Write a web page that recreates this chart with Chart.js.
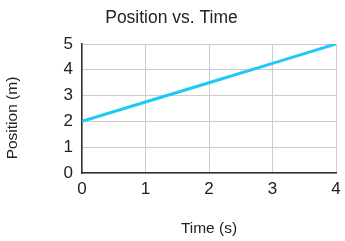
<!DOCTYPE html>
<html>
<head>
<meta charset="utf-8">
<script src="https://cdn.jsdelivr.net/npm/chart.js@4/dist/chart.umd.min.js"></script>
<style>
  html, body { margin: 0; padding: 0; background: #fff; }
  #wrap { width: 345px; height: 241px; }
</style>
</head>
<body>
<div id="wrap"><canvas id="chart"></canvas></div>
<script>
const times = [0, 1, 2, 3, 4];
const positions = [2, 2.75, 3.5, 4.25, 5];
const xTicks = [0, 1, 2, 3, 4];
const yTicks = [0, 1, 2, 3, 4, 5];
const chartTitle = 'Position vs. Time';
const xTitle = 'Time (s)';
const yTitle = 'Position (m)';

const font = "'Liberation Sans', Arial, sans-serif";
const ink = '#222222';

// y-axis title sits a bit below the plot's middle in the original, so draw it by hand
const yTitlePlugin = {
    id: 'yTitle',
    afterDraw(chart) {
        const { ctx } = chart;
        ctx.save();
        ctx.translate(13, 118);
        ctx.rotate(-Math.PI / 2);
        ctx.fillStyle = ink;
        ctx.font = `15.5px ${font}`;
        ctx.textAlign = 'center';
        ctx.textBaseline = 'middle';
        ctx.fillText(yTitle, 0, 0);
        ctx.restore();
    },
};

new Chart(document.getElementById('chart'), {
    type: 'line',
    data: {
        datasets: [{
            data: times.map((t, i) => ({ x: t, y: positions[i] })),
            borderColor: '#1ec8f7',
            borderWidth: 3,
            pointRadius: 0,
            tension: 0,
            fill: false,
        }],
    },
    plugins: [yTitlePlugin],
    options: {
        responsive: true,
        maintainAspectRatio: false,
        animation: false,
        layout: { padding: { left: 7, right: 9, top: 0, bottom: 0 } },
        plugins: {
            legend: { display: false },
            tooltip: { enabled: false },
            title: {
                display: true,
                text: chartTitle,
                color: ink,
                font: { family: font, size: 17.5, weight: 'normal' },
                padding: { top: 8, bottom: 15 },
            },
        },
        scales: {
            x: {
                type: 'linear',
                min: 0,
                max: 4,
                afterBuildTicks: (s) => { s.ticks = xTicks.map((v) => ({ value: v })); },
                afterFit: (s) => {
                    s.height = 68;
                    s.paddingLeft = 0;
                    s.paddingRight = 0;
                },
                grid: { color: '#cccccc', drawTicks: false },
                border: { color: '#333333', width: 1.5 },
                ticks: { color: ink, padding: 6, font: { family: font, size: 17 } },
                title: {
                    display: true,
                    text: xTitle,
                    color: ink,
                    font: { family: font, size: 15.5 },
                    padding: { top: 0, bottom: 3 },
                },
            },
            y: {
                min: 0,
                max: 5,
                afterBuildTicks: (s) => { s.ticks = yTicks.map((v) => ({ value: v })); },
                afterFit: (s) => { s.width = 75; },
                grid: { color: '#cccccc', drawTicks: false },
                border: { color: '#333333', width: 1.5 },
                ticks: { color: ink, padding: 9, font: { family: font, size: 17 } },
            },
        },
    },
});
</script>
</body>
</html>
